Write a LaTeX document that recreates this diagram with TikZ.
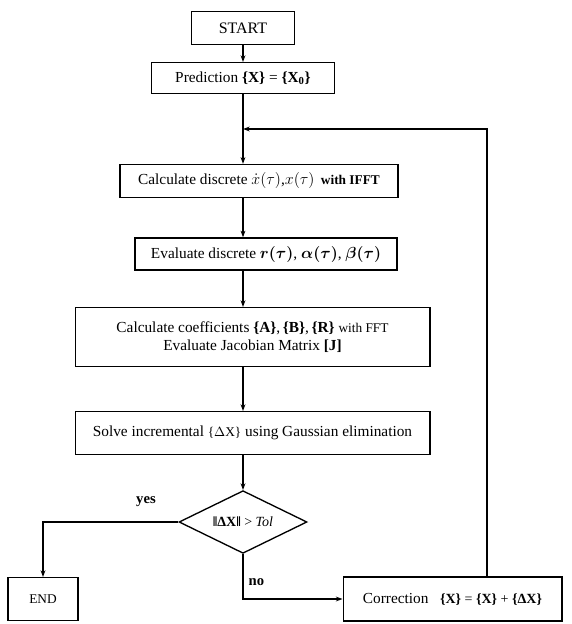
\documentclass[tikz,border=0pt]{standalone}
\usepackage{amsmath}
\usepackage{fontspec}
\setmainfont{Liberation Serif}
\usetikzlibrary{shapes.geometric,arrows.meta}
\begin{document}
\begin{tikzpicture}[x=0.75pt,y=-0.75pt,
  box/.style={draw,line width=1pt,inner sep=0pt,align=center,font=\fontsize{11.5}{14}\selectfont},
  small/.style={font=\fontsize{10}{12}\selectfont},
  arr/.style={-{Stealth[length=5pt,width=3.6pt]},line width=0.9pt},
  lab/.style={font=\fontsize{11}{13}\selectfont\bfseries,inner sep=1pt}]
\useasboundingbox[fill=white] (0,0) rectangle (571,624);
\node[box,minimum width=77pt,minimum height=25pt,font=\fontsize{12}{14}\selectfont] (start) at (243,28) {START};
\node[box,minimum width=137pt,minimum height=23pt] (pred) at (243,78) {Prediction \textbf{\{X\}} = \textbf{\{X$_{\mathbf{0}}$\}}};
\coordinate (join) at (243,129);
\node[box,minimum width=208.5pt,minimum height=24.75pt] (calc) at (259,181) {Calculate discrete $\dot{x}(\tau)$,$x(\tau)$ \,{\fontsize{10}{12}\selectfont\bfseries with IFFT}};
\node[box,minimum width=196.5pt,minimum height=24pt] (eval) at (266,254) {Evaluate discrete $\boldsymbol{r(\tau)}$, $\boldsymbol{\alpha(\tau)}$, $\boldsymbol{\beta(\tau)}$};
\node[box,minimum width=266pt,minimum height=44pt] (coef) at (252.5,337) {Calculate coefficients \textbf{\{A\}},\,\textbf{\{B\}},\,\textbf{\{R\}} {\fontsize{10}{12}\selectfont with FFT}\\Evaluate Jacobian Matrix \textbf{[J]}};
\node[box,minimum width=266pt,minimum height=32pt] (solve) at (252.5,433) {Solve incremental {\fontsize{10}{12}\selectfont\{$\Delta$X\}} using Gaussian elimination};
\node[draw,diamond,line width=1pt,inner sep=0pt,minimum width=96pt,minimum height=47pt] (dia) at (243,522) {};
\node[font=\fontsize{10.5}{12}\selectfont,inner sep=0pt] (diat) at (dia.center) {\textbf{‖ΔX‖} > \textit{Tol}};
\node[box,minimum width=52.5pt,minimum height=32pt,font=\fontsize{10}{12}\selectfont] (end) at (43,599) {END};
\node[box,minimum width=164pt,minimum height=33pt] (corr) at (452.5,599) {Correction \ \ {\fontsize{10.5}{12}\selectfont\textbf{\{X\}} = \textbf{\{X\}} + \textbf{\{ΔX\}}}};
\coordinate (loop) at (487,0);
\draw[arr] (start.south -| join) -- (pred.north -| join);
\draw[arr] (pred.south -| join) -- (calc.north -| join);
\draw[arr] (corr.north -| loop) -- (join -| loop) -- (join);
\draw[arr] (calc.south -| join) -- (eval.north -| join);
\draw[arr] (eval.south -| join) -- (coef.north -| join);
\draw[arr] (coef.south -| join) -- (solve.north -| join);
\draw[arr] (solve.south -| join) -- (dia.north);
\draw[arr] (dia.west) -| (end.north);
\draw[arr] (dia.south) |- (corr.west);
\node[lab] (yes) at (146,502) {yes};
\node[lab,anchor=west] (no) at (247,582) {no};
\end{tikzpicture}
\end{document}
